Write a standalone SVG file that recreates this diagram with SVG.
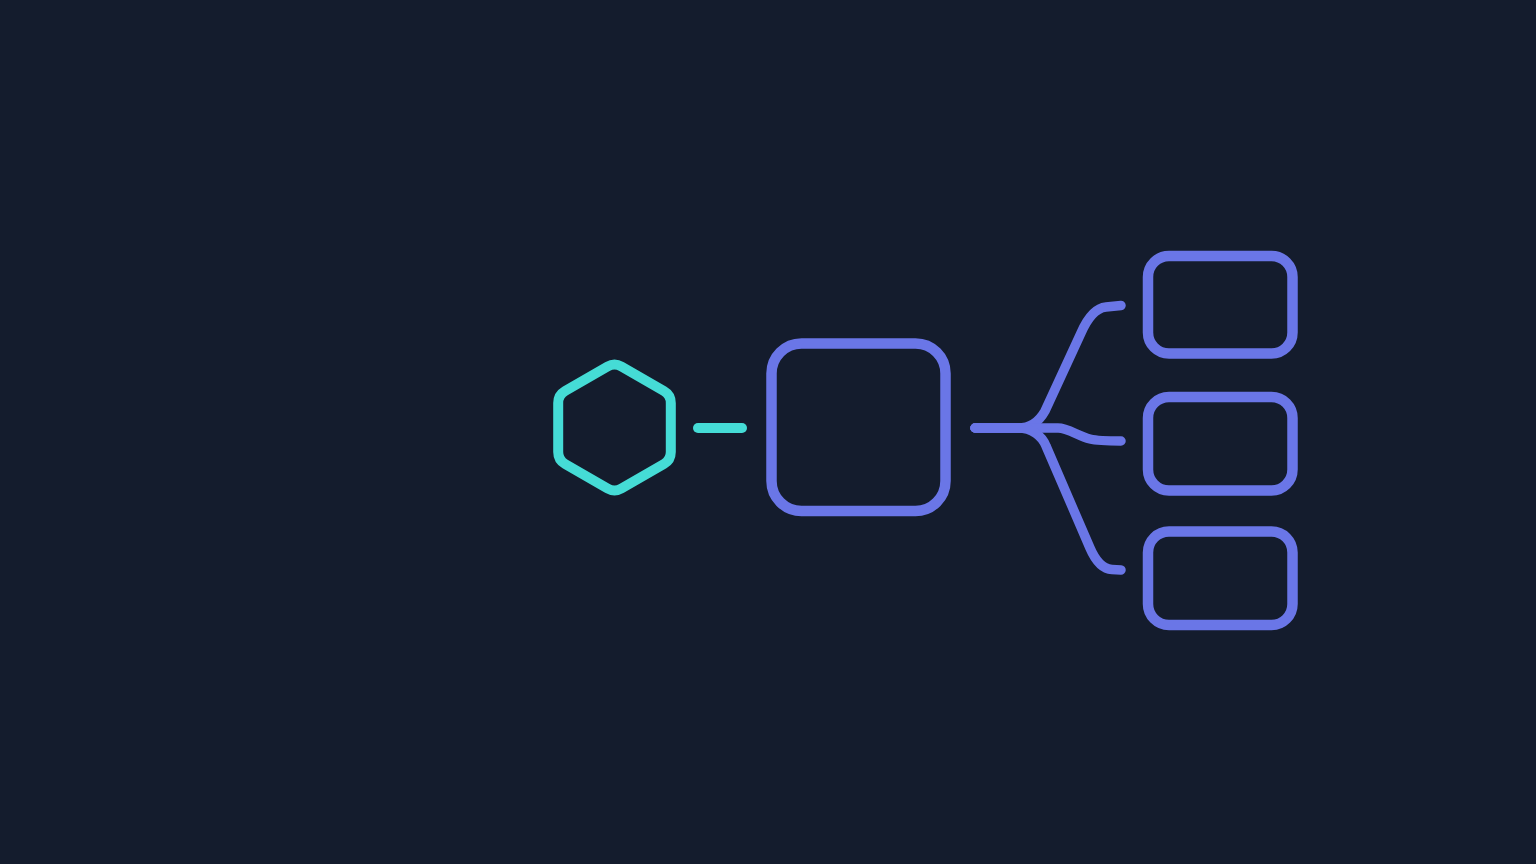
<svg xmlns="http://www.w3.org/2000/svg" width="1536" height="864" viewBox="0 0 1536 864">
  <style>
    .teal { fill: none; stroke: #45dcd6; stroke-width: 10; stroke-linecap: round; stroke-linejoin: round; }
    .blue { fill: none; stroke: #6a76e7; stroke-width: 10.5; stroke-linecap: round; stroke-linejoin: round; }
    .conn { fill: none; stroke: #6a76e7; stroke-width: 9.5; stroke-linecap: round; stroke-linejoin: round; }
  </style>
  <rect width="1536" height="864" fill="#141c2d"/>
  <g id="hexagon">
    <path class="teal" d="M621.4 366.5 L663.9 391 Q670.8 395 670.8 403 L670.8 452 Q670.8 460 663.9 464 L621.4 488.5 Q614.5 492.5 607.6 488.5 L565.1 464 Q558.2 460 558.2 452 L558.2 403 Q558.2 395 565.1 391 L607.6 366.5 Q614.5 362.5 621.4 366.5 Z"/>
  </g>
  <g id="hub">
    <rect class="blue" x="771.5" y="343.5" width="174" height="167.5" rx="30"/>
  </g>
  <g id="leaf1">
    <rect class="blue" x="1148" y="256" width="144.5" height="97.5" rx="21"/>
  </g>
  <g id="leaf2">
    <rect class="blue" x="1148" y="397" width="144.5" height="93.5" rx="21"/>
  </g>
  <g id="leaf3">
    <rect class="blue" x="1148" y="531.5" width="144.5" height="93.5" rx="21"/>
  </g>
  <g id="connectors">
    <path class="teal" d="M698 428 H742"/>
    <path class="conn" d="M975 428 H1018 C1032 428 1040 420 1045 411 L1081 333 C1088 317 1096 308 1106 307 L1121 305.5"/>
    <path class="conn" d="M975 428 H1058 C1068 428 1078 436 1090 439 C1098 441 1106 441 1121 441"/>
    <path class="conn" d="M975 428 H1018 C1032 428 1042 436 1046 446 L1090 548 C1096 562 1104 569 1112 569.5 L1121 570"/>
  </g>
</svg>
